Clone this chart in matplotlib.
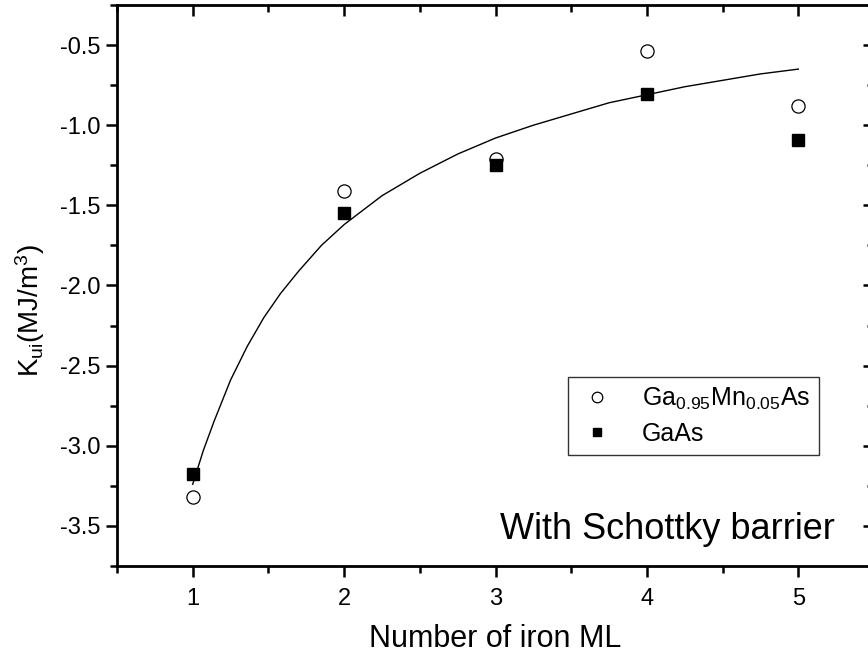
"""K_ui versus number of iron monolayers, with Schottky barrier."""
import matplotlib
matplotlib.use("Agg")
import matplotlib.pyplot as plt
from matplotlib.ticker import MultipleLocator

plt.rcParams["font.family"] = ["Liberation Sans", "DejaVu Sans"]
plt.rcParams["mathtext.fontset"] = "custom"
plt.rcParams["mathtext.rm"] = "Liberation Sans"
plt.rcParams["mathtext.it"] = "Liberation Sans"

# data
n_ml = [1, 2, 3, 4, 5]
k_gamnas = [-3.32, -1.41, -1.21, -0.54, -0.88]
k_gaas = [-3.175, -1.545, -1.25, -0.805, -1.095]

# fitted curve
fit_x = [1.0, 1.07, 1.14, 1.25, 1.36, 1.47, 1.58, 1.7, 1.85, 2.0, 2.25, 2.5,
         2.75, 3.0, 3.25, 3.5, 3.75, 4.0, 4.25, 4.5, 4.75, 5.0]
fit_y = [-3.24, -3.03, -2.85, -2.59, -2.38, -2.20, -2.05, -1.91, -1.75, -1.62,
         -1.44, -1.30, -1.18, -1.08, -1.00, -0.93, -0.86, -0.81, -0.76, -0.72,
         -0.68, -0.65]

fig = plt.figure(figsize=(8.68, 6.55), dpi=100)
ax = fig.add_axes([117 / 868, 89 / 655, (874 - 117) / 868, (566 - 5) / 655])

ax.plot(fit_x, fit_y, "-", color="black", linewidth=1.0, zorder=2)
ax.plot(n_ml, k_gamnas, "o", color="black", markerfacecolor="white",
        markersize=9.5, markeredgewidth=0.9, linestyle="none", zorder=3,
        label="Ga$_{0.95}$Mn$_{0.05}$As")
ax.plot(n_ml, k_gaas, "s", color="black", markersize=8, linestyle="none",
        zorder=4, label="GaAs")

ax.set_xlim(0.5, 5.5)
ax.set_ylim(-3.75, -0.25)
ax.xaxis.set_major_locator(MultipleLocator(1))
ax.xaxis.set_minor_locator(MultipleLocator(0.5))
ax.yaxis.set_major_locator(MultipleLocator(0.5))
ax.yaxis.set_minor_locator(MultipleLocator(0.25))
ax.yaxis.set_major_formatter(plt.FuncFormatter(lambda v, p: f"{v:.1f}"))

for s in ax.spines.values():
    s.set_linewidth(2.0)
ax.tick_params(which="both", direction="out", labelsize=17, width=1.8)
ax.tick_params(which="major", length=8)
ax.tick_params(which="minor", length=5)
ax.tick_params(axis="x", which="both", pad=8)
ax.tick_params(axis="y", which="both", pad=4)

# top and right: inward ticks, no labels
top = ax.secondary_xaxis("top")
right = ax.secondary_yaxis("right")
for sec in (top, right):
    sec.tick_params(which="both", direction="in", width=1.8,
                    labeltop=False, labelright=False)
    sec.tick_params(which="major", length=8)
    sec.tick_params(which="minor", length=5)
top.xaxis.set_major_locator(MultipleLocator(1))
top.xaxis.set_minor_locator(MultipleLocator(0.5))
right.yaxis.set_major_locator(MultipleLocator(0.5))
right.yaxis.set_minor_locator(MultipleLocator(0.25))
top.set_xticklabels([])
right.set_yticklabels([])

ax.set_xlabel("Number of iron ML", fontsize=22, labelpad=10)
ax.set_ylabel("K$_{\\mathrm{ui}}$(MJ/m$^{3}$)", fontsize=20)
ax.yaxis.set_label_coords(-0.092, 0.456)

leg = ax.legend(loc="upper left", bbox_to_anchor=((568 - 117) / 757, (566 - 377) / 561),
                fontsize=18, frameon=True, fancybox=False, markerscale=0.8,
                handlelength=1.6, handletextpad=1.0, borderpad=0.35,
                labelspacing=0.4, borderaxespad=0)
leg.get_frame().set_edgecolor("black")
leg.get_frame().set_linewidth(1.0)

ax.text(5.24, -3.525, "With Schottky barrier", fontsize=26, ha="right", va="center")

fig.savefig("out.png", dpi=100)
